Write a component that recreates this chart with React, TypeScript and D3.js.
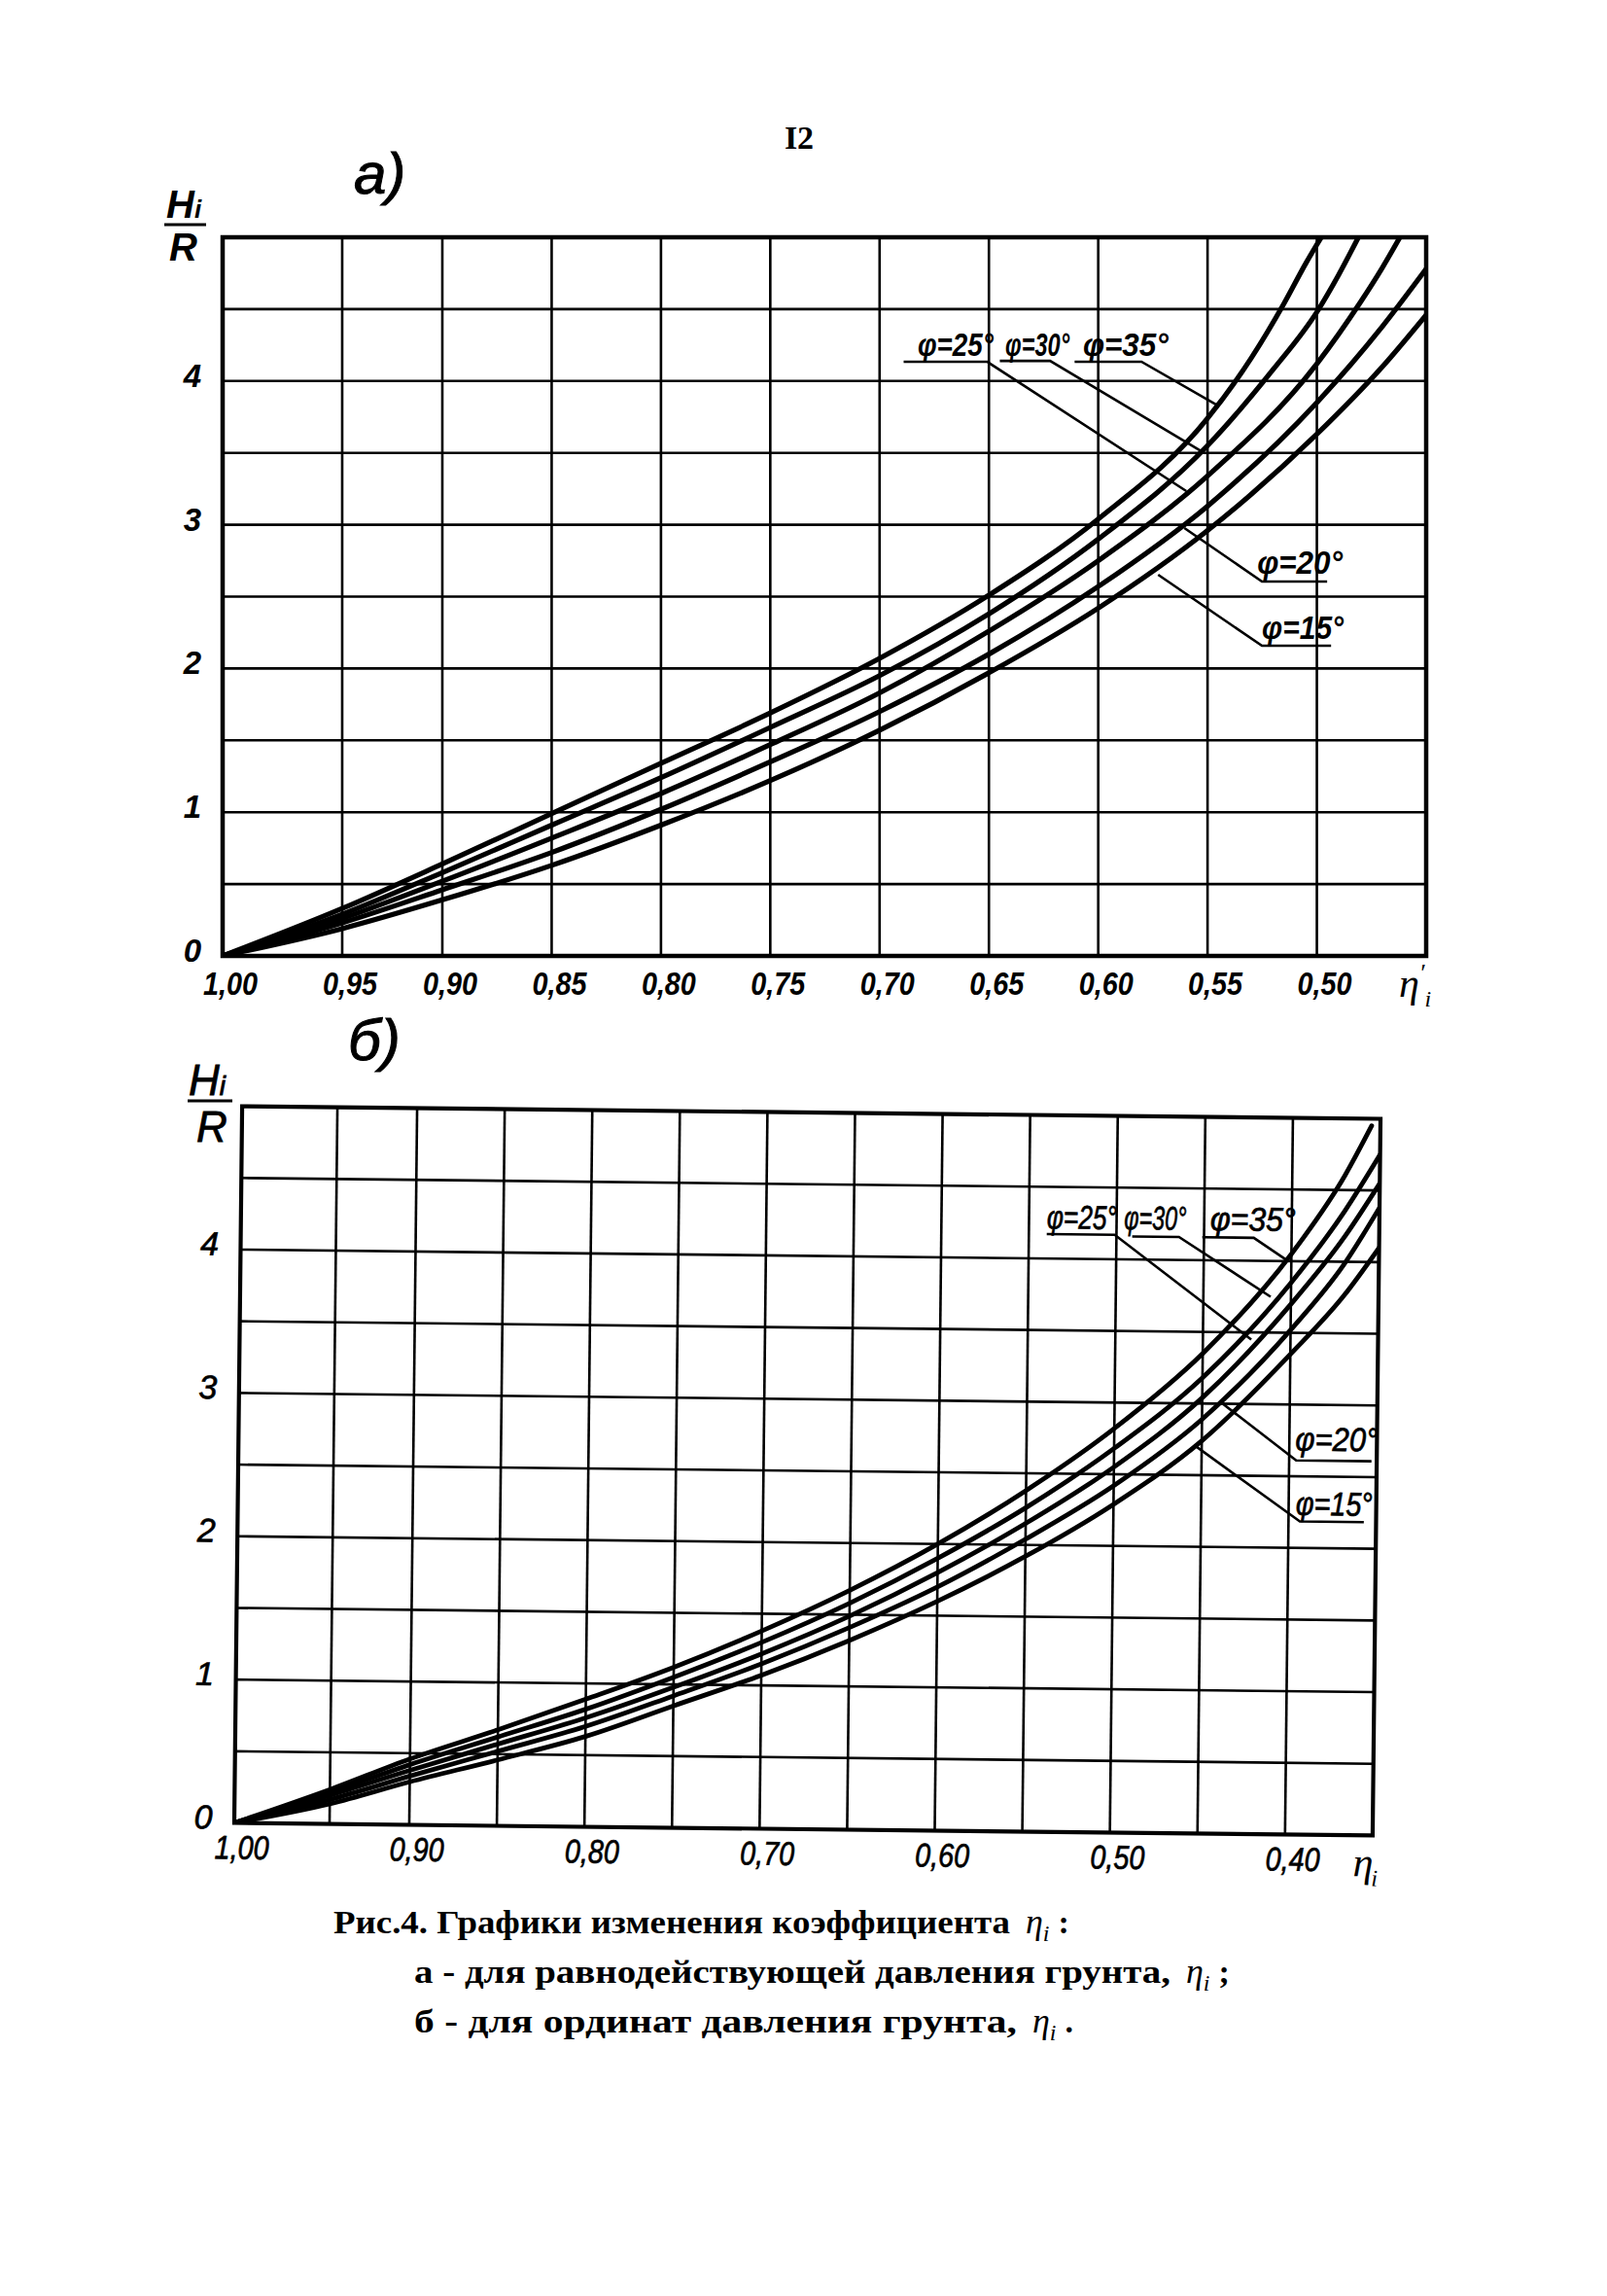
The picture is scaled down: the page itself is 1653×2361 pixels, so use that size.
import React, { useLayoutEffect, useRef, useState } from 'react';
import * as d3 from 'd3';

type Pt = [number, number];

// ---------------- Panel а : H/R vs η'i ----------------
const aCurve35: Pt[] = [[1.0, 0], [0.95, 0.33], [0.9, 0.64], [0.85, 0.99], [0.8, 1.34], [0.75, 1.69], [0.7, 2.07], [0.65, 2.51], [0.6, 3.04], [0.55, 3.74], [0.53, 4.16], [0.515, 4.54], [0.505, 4.82], [0.498, 5.0]];
const aCurve30: Pt[] = [[1.0, 0], [0.95, 0.29], [0.9, 0.58], [0.85, 0.91], [0.8, 1.24], [0.75, 1.59], [0.7, 1.95], [0.65, 2.38], [0.6, 2.9], [0.55, 3.55], [0.52, 4.08], [0.5, 4.48], [0.49, 4.74], [0.481, 5.0]];
const aCurve25: Pt[] = [[1.0, 0], [0.95, 0.26], [0.9, 0.52], [0.85, 0.82], [0.8, 1.13], [0.75, 1.47], [0.7, 1.83], [0.65, 2.26], [0.6, 2.75], [0.55, 3.34], [0.5, 4.12], [0.48, 4.55], [0.47, 4.79], [0.462, 5.0]];
const aCurve20: Pt[] = [[1.0, 0], [0.95, 0.23], [0.9, 0.46], [0.85, 0.72], [0.8, 1.02], [0.75, 1.35], [0.7, 1.7], [0.65, 2.1], [0.6, 2.57], [0.55, 3.13], [0.5, 3.85], [0.47, 4.38], [0.45, 4.78]];
const aCurve15: Pt[] = [[1.0, 0], [0.95, 0.19], [0.9, 0.39], [0.85, 0.63], [0.8, 0.91], [0.75, 1.22], [0.7, 1.57], [0.65, 1.97], [0.6, 2.42], [0.55, 2.96], [0.5, 3.63], [0.47, 4.1], [0.45, 4.46]];

const aXTickValues = [1.0, 0.95, 0.9, 0.85, 0.8, 0.75, 0.7, 0.65, 0.6, 0.55, 0.5];
const aXTickLabels = ['1,00', '0,95', '0,90', '0,85', '0,80', '0,75', '0,70', '0,65', '0,60', '0,55', '0,50'];
const aXGrid = [0.95, 0.9, 0.85, 0.8, 0.75, 0.7, 0.65, 0.6, 0.55, 0.5];
const aYGrid = [0.5, 1, 1.5, 2, 2.5, 3, 3.5, 4, 4.5];
const aYTickValues = [0, 1, 2, 3, 4];

const aLabelTexts = ['φ=25°', 'φ=30°', 'φ=35°', 'φ=20°', 'φ=15°'];
const aLabelPos: Pt[] = [[0.6826, 4.175], [0.6425, 4.175], [0.607, 4.175], [0.5273, 2.659], [0.5251, 2.206]];
const aLabelLen = [78, 66, 88, 88, 84];
const aLeaders: Pt[][] = [
  [[0.689, 4.134], [0.6508, 4.134], [0.5597, 3.234]],
  [[0.645, 4.14], [0.622, 4.14], [0.5522, 3.505]],
  [[0.6108, 4.134], [0.5802, 4.134], [0.546, 3.836]],
  [[0.4953, 2.605], [0.5251, 2.605], [0.5606, 2.977]],
  [[0.4935, 2.158], [0.5251, 2.158], [0.5726, 2.652]],
];

// ---------------- Panel б : H/R vs ηi ----------------
const bCurve35: Pt[] = [[1.0, 0], [0.95, 0.24], [0.9, 0.46], [0.85, 0.67], [0.8, 0.89], [0.75, 1.12], [0.7, 1.38], [0.65, 1.67], [0.6, 2.0], [0.55, 2.38], [0.5, 2.82], [0.45, 3.35], [0.4, 4.05], [0.37, 4.6], [0.355, 4.95]];
const bCurve30: Pt[] = [[1.0, 0], [0.95, 0.22], [0.9, 0.42], [0.85, 0.62], [0.8, 0.82], [0.75, 1.05], [0.7, 1.3], [0.65, 1.58], [0.6, 1.9], [0.55, 2.26], [0.5, 2.68], [0.45, 3.18], [0.4, 3.85], [0.37, 4.35], [0.35, 4.75]];
const bCurve25: Pt[] = [[1.0, 0], [0.95, 0.2], [0.9, 0.38], [0.85, 0.57], [0.8, 0.76], [0.75, 0.98], [0.7, 1.22], [0.65, 1.49], [0.6, 1.8], [0.55, 2.15], [0.5, 2.55], [0.45, 3.04], [0.4, 3.7], [0.37, 4.17], [0.35, 4.55]];
const bCurve20: Pt[] = [[1.0, 0], [0.95, 0.17], [0.9, 0.34], [0.85, 0.52], [0.8, 0.7], [0.75, 0.92], [0.7, 1.15], [0.65, 1.41], [0.6, 1.7], [0.55, 2.04], [0.5, 2.42], [0.45, 2.89], [0.4, 3.52], [0.37, 3.98], [0.35, 4.38]];
const bCurve15: Pt[] = [[1.0, 0], [0.95, 0.14], [0.9, 0.3], [0.85, 0.46], [0.8, 0.63], [0.75, 0.85], [0.7, 1.07], [0.65, 1.32], [0.6, 1.6], [0.55, 1.92], [0.5, 2.29], [0.45, 2.74], [0.4, 3.35], [0.37, 3.76], [0.35, 4.1]];

const bXTickValues = [1.0, 0.9, 0.8, 0.7, 0.6, 0.5, 0.4];
const bXTickLabels = ['1,00', '0,90', '0,80', '0,70', '0,60', '0,50', '0,40'];
const bXGrid = [0.95, 0.9, 0.85, 0.8, 0.75, 0.7, 0.65, 0.6, 0.55, 0.5, 0.45, 0.4];
const bYGrid = [0.5, 1, 1.5, 2, 2.5, 3, 3.5, 4, 4.5];
const bYTickValues = [0, 1, 2, 3, 4];

const bLabelTexts = ['φ=25°', 'φ=30°', 'φ=35°', 'φ=20°', 'φ=15°'];
const bLabelPos: Pt[] = [[0.5398, 4.21], [0.4957, 4.21], [0.4466, 4.21], [0.3966, 2.68], [0.396, 2.23]];
const bLabelLen = [72, 64, 88, 85, 79];
const bLeaders: Pt[][] = [
  [[0.5398, 4.17], [0.501, 4.17], [0.4224, 3.45]],
  [[0.491, 4.16], [0.4643, 4.16], [0.4116, 3.75]],
  [[0.451, 4.16], [0.4216, 4.16], [0.403, 4.01]],
  [[0.353, 2.61], [0.396, 2.61], [0.4388, 3.005]],
  [[0.357, 2.185], [0.3935, 2.185], [0.4544, 2.71]],
];

const captionLines = [
  'Рис.4. Графики изменения коэффициента',
  'а - для равнодействующей давления грунта,',
  'б - для ординат давления грунта,',
];
const captionTails = [':', ';', '.'];

type FitProps = {
  x: number;
  y: number;
  width: number;
  children: React.ReactNode;
  [k: string]: any;
};

// text horizontally scaled to a given width (keeps glyph height)
function FitText({ x, y, width, children, ...rest }: FitProps) {
  const ref = useRef<SVGTextElement>(null);
  const [s, setS] = useState(1);
  useLayoutEffect(() => {
    if (ref.current) {
      const w = ref.current.getComputedTextLength();
      if (w > 0) setS(width / w);
    }
  }, [width, children]);
  return (
    <text ref={ref} transform={`translate(${x},${y}) scale(${s},1)`} {...rest}>
      {children}
    </text>
  );
}

type PanelProps = {
  id: string;
  xDomain: number[];
  xRange: number[];
  top: number;
  bottom: number;
  curves: Pt[][];
  xGrid: number[];
  yGrid: number[];
  xTickValues: number[];
  xTickLabels: string[];
  yTickValues: number[];
  labelTexts: string[];
  labelPos: Pt[];
  labelLen: number[];
  leaders: Pt[][];
  bold: boolean;
  curveW: number;
  gridW: number;
  borderW: number;
  xLabelDy: number;
  xLabelDx: number;
  yLabelX: number;
  yLabelSize: number;
  transform?: string;
  etaPrime: boolean;
};

function Panel(p: PanelProps) {
  const x = d3.scaleLinear().domain(p.xDomain).range(p.xRange);
  const y = d3.scaleLinear().domain([0, 5]).range([p.bottom, p.top]);
  const line = d3
    .line<Pt>()
    .x((d) => x(d[0]))
    .y((d) => y(d[1]))
    .curve(d3.curveMonotoneX);
  const leaderLine = d3
    .line<Pt>()
    .x((d) => x(d[0]))
    .y((d) => y(d[1]));
  const x0 = x(p.xDomain[0]);
  const x1 = x(p.xDomain[p.xDomain.length - 1]);
  const weight = p.bold ? 700 : 400;
  const font = 'Liberation Sans, Arial, sans-serif';
  const thicken = p.bold ? 0 : 0.7;
  return (
    <g transform={p.transform}>
      <defs>
        <clipPath id={p.id}>
          <rect x={x0} y={y(5)} width={x1 - x0} height={y(0) - y(5)} />
        </clipPath>
      </defs>
      {p.xGrid.map((v) => (
        <line key={'gx' + v} x1={x(v)} x2={x(v)} y1={y(0)} y2={y(5)} stroke="#000" strokeWidth={p.gridW} />
      ))}
      {p.yGrid.map((v) => (
        <line key={'gy' + v} x1={x0} x2={x1} y1={y(v)} y2={y(v)} stroke="#000" strokeWidth={p.gridW} />
      ))}
      <rect x={x0} y={y(5)} width={x1 - x0} height={y(0) - y(5)} fill="none" stroke="#000" strokeWidth={p.borderW} />
      <g clipPath={`url(#${p.id})`}>
        {p.curves.map((c, i) => (
          <path key={'c' + i} d={line(c) || ''} fill="none" stroke="#000" strokeWidth={p.curveW} strokeLinecap="round" />
        ))}
      </g>
      {p.xTickValues.map((v, i) => (
        <text
          key={'xt' + v}
          x={x(v) + p.xLabelDx}
          y={y(0) + p.xLabelDy}
          textAnchor="middle"
          fontFamily={font}
          fontStyle="italic"
          fontWeight={weight}
          fontSize={34}
          textLength={56}
          lengthAdjust="spacingAndGlyphs"
          stroke="#000"
          strokeWidth={thicken}
        >
          {p.xTickLabels[i]}
        </text>
      ))}
      {p.yTickValues.map((v) => (
        <text
          key={'yt' + v}
          x={p.yLabelX}
          y={y(v) + 6}
          textAnchor="middle"
          fontFamily={font}
          fontStyle="italic"
          fontWeight={weight}
          fontSize={p.yLabelSize}
          stroke="#000"
          strokeWidth={thicken}
        >
          {v}
        </text>
      ))}
      {p.leaders.map((l, i) => (
        <path key={'ld' + i} d={leaderLine(l) || ''} fill="none" stroke="#000" strokeWidth={2.6} />
      ))}
      {p.labelTexts.map((t, i) => (
        <FitText
          key={'lb' + i}
          x={x(p.labelPos[i][0])}
          y={y(p.labelPos[i][1])}
          width={p.labelLen[i]}
          fontFamily={font}
          fontStyle="italic"
          fontWeight={weight}
          fontSize={34}
          stroke="#000"
          strokeWidth={thicken}
        >
          {t}
        </FitText>
      ))}
      <text
        x={x1 - (p.etaPrime ? 28 : 20)}
        y={y(0) + 42}
        fontFamily="Liberation Serif, serif"
        fontStyle="italic"
        fontSize={42}
      >
        η
        {p.etaPrime ? <tspan dy={-16} fontSize={26}>′</tspan> : null}
        <tspan dx={p.etaPrime ? 0 : -2} dy={p.etaPrime ? 26 : 10} fontSize={24}>i</tspan>
      </text>
    </g>
  );
}

export default function App() {
  const bCx = 830.5;
  const bCy = 1512.5;
  const capX = [343, 426, 426];
  const capLen = [696, 778, 620];
  const capY = [1988, 2039, 2090];
  return (
    <svg
      width={1653}
      height={2361}
      viewBox="0 0 1653 2361"
      style={{ position: 'absolute', left: 0, top: 0, background: '#fff' }}
    >
      <rect x={0} y={0} width={1653} height={2361} fill="#fff" />
      {/* page number */}
      <text x={822} y={153} textAnchor="middle" fontFamily="Liberation Serif, serif" fontWeight={700} fontSize={34}>
        I2
      </text>

      {/* Panel а */}
      <text x={364} y={199} fontFamily="Liberation Sans, sans-serif" fontStyle="italic" fontSize={60} stroke="#000" strokeWidth={1}>
        а)
      </text>
      <text x={171} y={224} fontFamily="Liberation Sans, sans-serif" fontStyle="italic" fontWeight={700} fontSize={40}>
        H<tspan fontSize={26}>i</tspan>
      </text>
      <line x1={169} x2={212} y1={231} y2={231} stroke="#000" strokeWidth={3} />
      <text x={174} y={268} fontFamily="Liberation Sans, sans-serif" fontStyle="italic" fontWeight={700} fontSize={40}>
        R
      </text>
      <Panel
        id="clipA"
        xDomain={[1.0, 0.95, 0.9, 0.45]}
        xRange={[229, 352, 455, 1467]}
        top={244}
        bottom={983}
        curves={[aCurve35, aCurve30, aCurve25, aCurve20, aCurve15]}
        xGrid={aXGrid}
        yGrid={aYGrid}
        xTickValues={aXTickValues}
        xTickLabels={aXTickLabels}
        yTickValues={aYTickValues}
        labelTexts={aLabelTexts}
        labelPos={aLabelPos}
        labelLen={aLabelLen}
        leaders={aLeaders}
        bold={true}
        curveW={5.2}
        gridW={2.6}
        borderW={4.5}
        xLabelDy={40}
        xLabelDx={8}
        yLabelX={198}
        yLabelSize={33}
        etaPrime={true}
      />

      {/* Panel б */}
      <text x={358} y={1090} fontFamily="Liberation Sans, sans-serif" fontStyle="italic" fontSize={60} stroke="#000" strokeWidth={1}>
        б)
      </text>
      <text x={194} y={1126} fontFamily="Liberation Sans, sans-serif" fontStyle="italic" fontSize={44} stroke="#000" strokeWidth={0.8}>
        H<tspan fontSize={28}>i</tspan>
      </text>
      <line x1={193} x2={239} y1={1132} y2={1132} stroke="#000" strokeWidth={3} />
      <text x={202} y={1174} fontFamily="Liberation Sans, sans-serif" fontStyle="italic" fontSize={44} stroke="#000" strokeWidth={0.8}>
        R
      </text>
      <Panel
        id="clipB"
        xDomain={[1.0, 0.95, 0.9, 0.35]}
        xRange={[245, 343, 425, 1416]}
        top={1144}
        bottom={1881}
        curves={[bCurve35, bCurve30, bCurve25, bCurve20, bCurve15]}
        xGrid={bXGrid}
        yGrid={bYGrid}
        xTickValues={bXTickValues}
        xTickLabels={bXTickLabels}
        yTickValues={bYTickValues}
        labelTexts={bLabelTexts}
        labelPos={bLabelPos}
        labelLen={bLabelLen}
        leaders={bLeaders}
        bold={false}
        curveW={4.8}
        gridW={2.6}
        borderW={4.2}
        xLabelDy={37}
        xLabelDx={8}
        yLabelX={213}
        yLabelSize={34}
        transform={`rotate(0.63, ${bCx}, ${bCy})`}
        etaPrime={false}
      />

      {/* caption */}
      {captionLines.map((t, i) => (
        <g key={'cap' + i}>
          <text
            x={capX[i]}
            y={capY[i]}
            fontFamily="Liberation Serif, serif"
            fontWeight={700}
            fontSize={34}
            textLength={capLen[i]}
            lengthAdjust="spacingAndGlyphs"
          >
            {t}
          </text>
          <text x={capX[i] + capLen[i] + 16} y={capY[i]} fontFamily="Liberation Serif, serif" fontStyle="italic" fontSize={36}>
            η<tspan dy={8} fontSize={24}>i</tspan>
            <tspan dy={-8} dx={9} fontFamily="Liberation Serif, serif" fontStyle="normal" fontWeight={700} fontSize={34}>
              {captionTails[i]}
            </tspan>
          </text>
        </g>
      ))}
    </svg>
  );
}
